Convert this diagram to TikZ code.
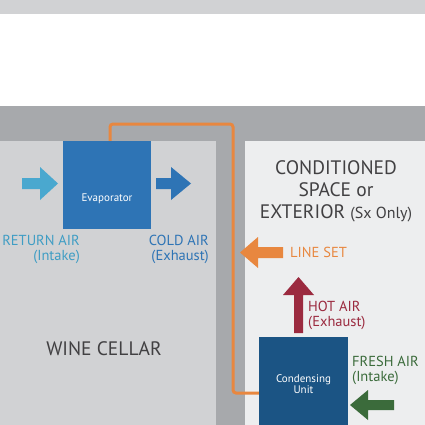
\documentclass[tikz,border=0pt]{standalone}
\usepackage{fontspec}
\setmainfont{PT Sans}
\definecolor{lightband}{HTML}{D1D2D4}
\definecolor{wallgray}{HTML}{A7A9AC}
\definecolor{cellargray}{HTML}{D1D2D4}
\definecolor{spacegray}{HTML}{EDEEEF}
\definecolor{evapblue}{HTML}{2E74B5}
\definecolor{condblue}{HTML}{1B5484}
\definecolor{returnblue}{HTML}{4AA8CF}
\definecolor{returntext}{HTML}{3F9DC4}
\definecolor{lineorange}{HTML}{E8873F}
\definecolor{hotred}{HTML}{9B2A3F}
\definecolor{freshgreen}{HTML}{3B6B3B}
\definecolor{darktext}{HTML}{414042}
\begin{document}
\begin{tikzpicture}[x=1pt,y=-1pt,
  unitbox/.style={draw=none,inner sep=0pt},
  unittext/.style={text=white,align=center,inner sep=0pt,font=\fontsize{11}{11.5}\selectfont},
  label/.style={inner sep=0pt,font=\fontsize{14.5}{15.5}\selectfont},
  roomtext/.style={inner sep=0pt,text=darktext,font=\fontsize{19.5}{22}\selectfont,align=center},
  orangeline/.style={draw=lineorange,line width=3pt,rounded corners=3pt}]
\useasboundingbox (0,0) rectangle (425,425);
% background regions
\fill[lightband] (0,0) rectangle (425,14);
\fill[white] (0,14) rectangle (425,106);
\fill[wallgray] (0,106) rectangle (425,425);
\fill[cellargray] (0,141) rectangle (216,425);
\fill[spacegray] (245,141) rectangle (425,425);
% units
\node[unitbox,fill=evapblue,minimum width=88pt,minimum height=88pt] (evap) at (107,185) {};
\node[unittext] (evaptext) at (107,199) {Evaporator};
\node[unitbox,fill=condblue,minimum width=89pt,minimum height=90pt] (cond) at (303.5,382) {};
\node[unittext] (condtext) at (303.5,384) {Condensing\\Unit};
% line set
\coordinate (turn) at (233,124);
\draw[orangeline] ([xshift=3pt]evap.north) |- (turn) |- ([yshift=-11pt]cond.west);
% arrows
\fill[returnblue] (22,178) -- (40,178) -- (40,167) -- (58,183.5) -- (40,200) -- (40,189) -- (22,189) -- cycle;
\fill[evapblue] (156,178) -- (171,178) -- (171,167) -- (191,183.5) -- (171,200) -- (171,189) -- (156,189) -- cycle;
\fill[lineorange] (283,247) -- (258,247) -- (258,237) -- (240,252.5) -- (258,268) -- (258,258) -- (283,258) -- cycle;
\fill[hotred] (294,333) -- (294,295) -- (283,295) -- (298.5,277) -- (314,295) -- (303,295) -- (303,333) -- cycle;
\fill[freshgreen] (394,400) -- (368,400) -- (368,390) -- (350,405) -- (368,420) -- (368,410) -- (394,410) -- cycle;
% labels
\node[label,text=returntext,anchor=east,align=right] (ret) at (80,249.5) {RETURN AIR\\(Intake)};
\node[label,text=evapblue,anchor=east,align=right] (cold) at (209,249.5) {COLD AIR\\(Exhaust)};
\node[roomtext] (condspace) at (336,191.5) {CONDITIONED\\SPACE or\\EXTERIOR {\fontsize{16}{17}\selectfont(Sx Only)}};
\node[label,text=lineorange,anchor=west] (lineset) at (290,252.5) {LINE SET};
\node[label,text=hotred,anchor=west,align=left] (hot) at (308,315.5) {HOT AIR\\(Exhaust)};
\node[label,text=freshgreen,anchor=west,align=left] (fresh) at (352,370.5) {FRESH AIR\\(Intake)};
\node[roomtext] (cellar) at (104,349) {WINE CELLAR};
\end{tikzpicture}
\end{document}
